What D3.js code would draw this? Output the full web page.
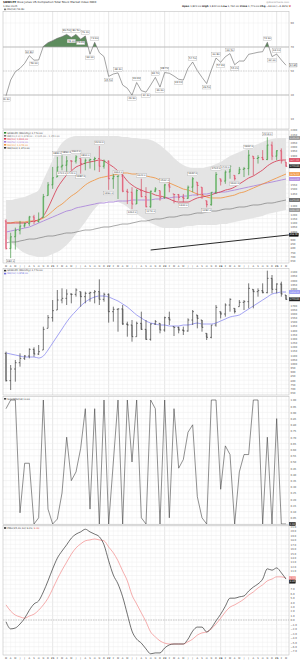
<!DOCTYPE html>
<html>
<head>
<meta charset="utf-8">
<script src="https://cdn.jsdelivr.net/npm/d3@7"></script>
<style>
  body { margin: 0; background: #fff; }
  svg { display: block; }
  text { font-family: "DejaVu Sans", "Liberation Sans", sans-serif; }
</style>
</head>
<body>
<div id="chart"></div>
<script>
// Monthly bars, Mar-2020 .. Mar-2025
const months = d3.timeMonth.range(new Date(2020, 2, 1), new Date(2025, 3, 1));

const opens  = [1122, 794, 934, 1010, 1062, 1090, 1170, 1114, 1162, 1422, 1550, 1642, 1762, 1782, 1834, 1830, 1862, 1802, 1842, 1850, 1862, 1770, 1830, 1622, 1650, 1655, 1474, 1462, 1322, 1482, 1410, 1290, 1474, 1482, 1402, 1550, 1442, 1434, 1402, 1390, 1522, 1582, 1522, 1362, 1314, 1462, 1622, 1594, 1702, 1662, 1682, 1734, 1742, 1890, 1862, 1874, 1850, 2022, 1890, 1954, 1822];
const highs  = [1142, 982, 1042, 1122, 1102, 1182, 1194, 1222, 1442, 1582, 1762, 1882, 1902, 1890, 1842, 1902, 1862, 1862, 1862, 1882, 2010, 1850, 1842, 1682, 1662, 1702, 1502, 1522, 1502, 1622, 1522, 1482, 1522, 1482, 1562, 1622, 1442, 1442, 1442, 1542, 1642, 1582, 1522, 1362, 1462, 1702, 1622, 1722, 1782, 1662, 1762, 1762, 1962, 1890, 1902, 1962, 2114, 2062, 1962, 1982, 1822];
const lows   = [782, 682, 782, 962, 1042, 1062, 1082, 1102, 1162, 1422, 1502, 1642, 1722, 1702, 1722, 1802, 1682, 1722, 1742, 1722, 1702, 1742, 1490, 1502, 1382, 1462, 1322, 1262, 1322, 1402, 1282, 1274, 1462, 1362, 1382, 1462, 1330, 1362, 1342, 1382, 1462, 1422, 1382, 1282, 1302, 1442, 1542, 1562, 1622, 1600, 1682, 1642, 1662, 1662, 1802, 1842, 1842, 1842, 1842, 1802, 1762];
const closes = [794, 934, 1010, 1062, 1090, 1170, 1114, 1142, 1410, 1550, 1634, 1762, 1782, 1834, 1830, 1882, 1802, 1842, 1850, 1862, 1770, 1830, 1622, 1650, 1655, 1474, 1462, 1322, 1482, 1410, 1290, 1474, 1502, 1402, 1550, 1522, 1434, 1402, 1390, 1522, 1622, 1542, 1434, 1314, 1462, 1674, 1594, 1702, 1770, 1622, 1734, 1742, 1902, 1862, 1874, 1850, 2022, 1890, 1954, 1834, 1770];

// Overlays of the price panel
const bbUpper = [1370, 1370, 1382, 1394, 1405, 1429, 1453, 1488, 1607, 1726, 1844, 1963, 2046, 2093, 2117, 2129, 2129, 2129, 2129, 2129, 2129, 2129, 2129, 2129, 2129, 2117, 2117, 2105, 2105, 2093, 2093, 2081, 2058, 2022, 1975, 1927, 1868, 1821, 1785, 1761, 1749, 1749, 1749, 1761, 1773, 1797, 1821, 1856, 1892, 1915, 1939, 1963, 1987, 2010, 2034, 2058, 2081, 2093, 2105, 2105, 2105];
const bbLower = [919, 872, 824, 777, 741, 718, 706, 694, 694, 706, 729, 753, 789, 836, 895, 967, 1038, 1109, 1192, 1263, 1322, 1346, 1358, 1358, 1346, 1322, 1287, 1239, 1204, 1168, 1133, 1097, 1073, 1050, 1038, 1038, 1038, 1038, 1050, 1062, 1062, 1073, 1073, 1073, 1073, 1073, 1085, 1085, 1097, 1109, 1121, 1133, 1145, 1156, 1168, 1180, 1204, 1216, 1228, 1239, 1251];
const ma10 = [1097, 1097, 1097, 1097, 1097, 1109, 1121, 1133, 1180, 1275, 1394, 1512, 1595, 1666, 1714, 1761, 1785, 1809, 1821, 1832, 1844, 1832, 1797, 1761, 1714, 1666, 1595, 1548, 1512, 1488, 1465, 1453, 1429, 1417, 1405, 1382, 1358, 1346, 1346, 1346, 1370, 1394, 1405, 1417, 1429, 1453, 1465, 1488, 1500, 1524, 1560, 1595, 1631, 1655, 1690, 1726, 1773, 1809, 1832, 1844, 1844];
const ma20 = [1097, 1097, 1109, 1109, 1109, 1121, 1121, 1133, 1156, 1192, 1239, 1287, 1322, 1370, 1417, 1453, 1500, 1548, 1583, 1607, 1631, 1643, 1655, 1666, 1678, 1690, 1690, 1678, 1678, 1666, 1655, 1643, 1631, 1607, 1595, 1572, 1548, 1524, 1500, 1488, 1465, 1441, 1429, 1405, 1394, 1394, 1394, 1405, 1417, 1429, 1453, 1465, 1488, 1512, 1536, 1560, 1583, 1607, 1631, 1655, 1678];
const ma50 = [990, 1002, 1014, 1026, 1038, 1050, 1073, 1097, 1121, 1145, 1168, 1192, 1216, 1239, 1251, 1275, 1287, 1299, 1311, 1322, 1334, 1334, 1346, 1346, 1358, 1358, 1358, 1370, 1370, 1370, 1370, 1370, 1382, 1382, 1394, 1394, 1405, 1405, 1417, 1417, 1429, 1429, 1441, 1441, 1453, 1453, 1465, 1465, 1477, 1488, 1500, 1512, 1524, 1536, 1548, 1560, 1572, 1583, 1595, 1607, 1619];
const ma100 = [860, 872, 872, 884, 895, 907, 907, 919, 931, 943, 943, 955, 967, 979, 979, 990, 1002, 1014, 1014, 1026, 1038, 1050, 1050, 1062, 1073, 1085, 1085, 1097, 1109, 1121, 1121, 1133, 1145, 1145, 1156, 1168, 1168, 1180, 1192, 1192, 1204, 1216, 1216, 1228, 1239, 1239, 1251, 1263, 1263, 1275, 1287, 1287, 1299, 1311, 1311, 1322, 1334, 1334, 1346, 1358, 1370];
const trendLine = [{ i: 31, v: 777 }, { i: 61, v: 958 }];

// Second price panel moving average
const maLower = [1126, 1114, 1102, 1090, 1078, 1078, 1078, 1066, 1090, 1162, 1246, 1330, 1414, 1498, 1570, 1630, 1690, 1738, 1774, 1798, 1810, 1810, 1798, 1774, 1750, 1714, 1678, 1630, 1582, 1546, 1510, 1486, 1474, 1462, 1462, 1450, 1450, 1450, 1462, 1462, 1474, 1486, 1474, 1474, 1474, 1486, 1510, 1534, 1558, 1570, 1582, 1618, 1654, 1690, 1726, 1762, 1798, 1834, 1846, 1858, 1858];

// Indicators
const rsi = [29.4, 42.5, 49.4, 52.2, 56.4, 62.8, 59.0, 59.2, 70.5, 73.6, 75.3, 77.2, 78.6, 80.5, 78.0, 80.5, 76.4, 79.2, 64.0, 73.9, 65.3, 62.0, 45.5, 47.5, 48.4, 38.3, 35.6, 29.9, 40.4, 33.6, 32.4, 38.3, 44.7, 36.6, 48.7, 48.1, 45.8, 43.1, 42.5, 52.2, 57.5, 50.3, 44.7, 39.5, 50.8, 60.8, 57.3, 61.9, 64.5, 55.2, 58.3, 58.3, 63.9, 64.7, 65.6, 66.1, 73.9, 62.0, 64.1, 59.2, 54.8];
const stochRsi = [0.93, 1.0, 1.0, 0.09, 0.49, 0.49, 0.0, 0.05, 1.0, 0.12, 0.0, 0.04, 0.25, 0.70, 0.35, 0.42, 0.61, 0.93, 0.12, 0.93, 0.0, 1.0, 0.0, 0.5, 1.0, 0.0, 1.0, 0.50, 1.0, 0.05, 0.0, 1.0, 0.93, 0.0, 1.0, 0.05, 0.93, 0.45, 0.52, 0.74, 0.80, 0.22, 0.05, 0.0, 1.0, 1.0, 0.28, 0.63, 0.56, 0.0, 0.42, 0.56, 0.56, 1.0, 1.0, 0.0, 0.70, 0.0, 0.85, 0.0, 0.0];
const pmo = [-0.4, -2.0, -1.8, -0.9, 0.4, 2.2, 3.6, 4.3, 6.3, 8.8, 11.5, 13.9, 15.5, 16.9, 18.4, 19.3, 19.8, 20.4, 19.8, 19.3, 18.7, 16.9, 13.3, 10.1, 8.1, 5.2, 1.3, -2.5, -4.3, -5.2, -6.5, -7.6, -7.4, -7.4, -6.3, -5.6, -5.4, -5.4, -5.4, -4.3, -2.5, -1.6, -1.6, -2.7, -1.8, -0.2, 1.3, 3.1, 4.9, 4.9, 5.2, 5.4, 6.5, 7.4, 8.1, 9.2, 11.5, 11.2, 11.7, 10.6, 9.2];
const pmoSignal = [3.4, 2.0, 1.1, 0.7, 0.4, 0.9, 1.3, 2.2, 3.4, 4.9, 7.0, 9.2, 11.2, 13.0, 14.8, 16.2, 17.1, 17.8, 18.0, 18.2, 18.0, 17.8, 16.4, 15.1, 13.3, 11.0, 8.8, 5.6, 3.6, 1.6, -0.4, -2.7, -3.8, -4.7, -5.2, -5.4, -5.4, -5.4, -5.4, -4.9, -4.3, -3.4, -2.9, -2.7, -2.0, -0.9, 0.4, 1.8, 2.9, 3.4, 4.0, 4.7, 5.6, 6.3, 7.2, 7.9, 8.8, 9.2, 9.7, 9.7, 9.4];

// Pivot labels: [bar index, +1 above / -1 below]
const rsiTags = [[0, -1], [5, 1], [6, -1], [13, 1], [14, -1], [15, 1], [16, -1], [17, 1], [18, -1], [19, 1], [22, -1], [24, 1], [27, -1], [28, 1], [30, -1], [32, 1], [33, -1], [34, 1], [37, -1], [40, 1], [43, -1], [45, 1], [46, -1], [48, 1], [49, -1], [56, 1], [57, -1], [58, 1]];
const priceTags = [[1, -1], [11, 1], [12, -1], [13, 1], [14, -1], [15, 1], [16, -1], [17, 1], [20, 1], [22, -1], [24, 1], [27, -1], [29, 1], [31, -1], [34, 1], [38, -1], [40, 1], [43, -1], [45, 1], [47, 1], [49, -1], [52, 1], [56, 1]];

// Axis ticks
const rsiTicks = [10, 30, 50, 70, 90];
const priceTicks = d3.range(650, 2201, 50);
const lowerTicks = d3.range(650, 2101, 50);
const stochTicks = d3.range(0, 21).map(d => d / 20);
const pmoTicks = d3.range(-7, 22, 1);

// ---------------------------------------------------------------
const W = 300, H = 661;
const plotLeft = 3, plotRight = 289;
const n = closes.length;
const last = n - 1;
const fmt2 = d3.format(",.2f");

const svg = d3.select("#chart").append("svg")
              .attr("width", W)
              .attr("height", H);
svg.append("rect").attr("width", W).attr("height", H).attr("fill", "#fff");
const defs = svg.append("defs");

const x = d3.scaleLinear().domain([0, 60]).range([6, 286]);

const P1 = { top: 11.5, bottom: 129 };
const P2 = { top: 130, bottom: 263 };
const P3 = { top: 268.5, bottom: 395 };
const P4 = { top: 396.5, bottom: 524.5 };
const P5 = { top: 525.5, bottom: 655 };

const yRsi = d3.scaleLinear().domain([0, 100]).range([131, 11]);
const yPrice = d3.scaleLinear().domain([623, 2200]).range([263, 130]);
const yLower = d3.scaleLinear().domain([622, 2146]).range([395, 268]);
const yStoch = d3.scaleLinear().domain([0, 1]).range([524, 400]);
const yPmo = d3.scaleLinear().domain([-7.87, 21.35]).range([655, 525]);

let clipCount = 0;

// Panel frame: grid, right axis, clipped drawing group
function panel(p, yScale, ticks, tickFmt) {
    const id = "clip" + (clipCount++);
    defs.append("clipPath").attr("id", id)
        .append("rect")
        .attr("x", plotLeft).attr("y", p.top)
        .attr("width", plotRight - plotLeft).attr("height", p.bottom - p.top);

    const grid = svg.append("g");
    grid.selectAll("line.v")
        .data(months)
        .join("line")
        .attr("x1", (d, i) => x(i)).attr("x2", (d, i) => x(i))
        .attr("y1", p.top).attr("y2", p.bottom)
        .attr("stroke", d => d.getMonth() === 0 ? "#cfcfcf" : "#f0f0f0")
        .attr("stroke-width", 0.5);
    const inside = ticks.filter(t => yScale(t) >= p.top && yScale(t) <= p.bottom);
    grid.selectAll("line.h")
        .data(inside)
        .join("line")
        .attr("x1", plotLeft).attr("x2", plotRight)
        .attr("y1", d => yScale(d)).attr("y2", d => yScale(d))
        .attr("stroke", "#ececec")
        .attr("stroke-width", 0.5);

    const axis = svg.append("g")
       .attr("transform", "translate(" + plotRight + ",0)")
       .call(d3.axisRight(yScale).tickValues(inside).tickSize(0).tickPadding(1.5).tickFormat(tickFmt))
       .call(a => a.select(".domain").remove());
    axis.selectAll("text")
        .attr("font-size", 2.6)
        .attr("fill", "#555");

    const g = svg.append("g").attr("clip-path", "url(#" + id + ")");
    return { g: g, axis: axis, yScale: yScale };
}

function border(p) {
    svg.append("rect")
       .attr("x", plotLeft).attr("y", p.top)
       .attr("width", plotRight - plotLeft).attr("height", p.bottom - p.top)
       .attr("fill", "none").attr("stroke", "#b5b5b5").attr("stroke-width", 0.5);
}

// Small boxed value label
function tag(g, cx, cy, txt, opt) {
    opt = opt || {};
    const t = g.append("text")
               .attr("x", cx).attr("y", cy)
               .attr("font-size", opt.size || 2.5)
               .attr("text-anchor", opt.anchor || "middle")
               .attr("dominant-baseline", "central")
               .attr("fill", opt.color || "#333")
               .text(txt);
    const w = t.node().getComputedTextLength() + 1.2;
    const h = (opt.size || 2.5) + 1.1;
    const left = (opt.anchor === "start") ? cx - 0.6 : cx - w / 2;
    g.insert("rect", () => t.node())
     .attr("x", left).attr("y", cy - h / 2)
     .attr("width", w).attr("height", h)
     .attr("fill", opt.fill || "#fff")
     .attr("stroke", opt.stroke || "#999")
     .attr("stroke-width", 0.3);
}

// Last-value boxes on the right axis, spread apart, hiding the ticks under them
function valueBoxes(pn, boxes) {
    const list = boxes.map(b => Object.assign({ y: pn.yScale(b.v) }, b)).sort((a, b) => a.y - b.y);
    const gap = 3.5;
    for (let k = 1; k < list.length; k++) {
        if (list[k].y - list[k - 1].y < gap) list[k].y = list[k - 1].y + gap;
    }
    pn.axis.selectAll(".tick").each(function (t) {
        const ty = pn.yScale(t);
        if (list.some(b => Math.abs(b.y - ty) < 3.2)) d3.select(this).select("text").remove();
    });
    list.forEach(b => tag(svg, plotRight + 0.8, b.y, d3.format(".2f")(b.v),
        { anchor: "start", fill: b.fill, stroke: b.stroke || b.fill, color: b.color || "#fff", size: 2.3 }));
}

function legendRow(y, label, color, boxColor) {
    const g = svg.append("g");
    g.append("rect").attr("x", 4).attr("y", y - 1.6).attr("width", 2.2).attr("height", 1.6)
     .attr("fill", boxColor || color);
    g.append("text").attr("x", 7.2).attr("y", y)
     .attr("font-size", 2.5).attr("fill", color).text(label);
}

function lineOf(yScale) {
    return d3.line().x((d, i) => x(i)).y(d => yScale(d));
}

function drawBars(g, yScale, upColor, downColor, bodyUp, bodyDown) {
    const idx = d3.range(n);
    const up = i => closes[i] >= (i ? closes[i - 1] : opens[0]);
    g.selectAll("rect.body")
     .data(idx.filter(i => (closes[i] >= opens[i] ? bodyUp : bodyDown)))
     .join("rect")
     .attr("x", i => x(i) - 0.9).attr("width", 1.8)
     .attr("y", i => yScale(Math.max(opens[i], closes[i])))
     .attr("height", i => Math.max(0.4, Math.abs(yScale(opens[i]) - yScale(closes[i]))))
     .attr("fill", i => closes[i] >= opens[i] ? bodyUp : bodyDown);
    g.selectAll("line.hl")
     .data(idx)
     .join("line")
     .attr("x1", i => x(i)).attr("x2", i => x(i))
     .attr("y1", i => yScale(highs[i])).attr("y2", i => yScale(lows[i]))
     .attr("stroke", i => up(i) ? upColor : downColor).attr("stroke-width", 0.6);
    g.selectAll("line.o")
     .data(idx)
     .join("line")
     .attr("x1", i => x(i) - 1.3).attr("x2", i => x(i))
     .attr("y1", i => yScale(opens[i])).attr("y2", i => yScale(opens[i]))
     .attr("stroke", i => up(i) ? upColor : downColor).attr("stroke-width", 0.6);
    g.selectAll("line.c")
     .data(idx)
     .join("line")
     .attr("x1", i => x(i)).attr("x2", i => x(i) + 1.3)
     .attr("y1", i => yScale(closes[i])).attr("y2", i => yScale(closes[i]))
     .attr("stroke", i => up(i) ? upColor : downColor).attr("stroke-width", 0.6);
}

function monthAxis(y) {
    svg.append("g")
       .selectAll("text")
       .data(months)
       .join("text")
       .attr("x", (d, i) => x(i)).attr("y", y)
       .attr("text-anchor", "middle")
       .attr("font-size", 2.4)
       .attr("font-weight", d => d.getMonth() === 0 ? "bold" : "normal")
       .attr("fill", "#444")
       .text(d => d.getMonth() === 0 ? d3.timeFormat("%y")(d) : d3.timeFormat("%b")(d)[0]);
}

// ---------------------------------------------------------------
// Header
const chg = closes[last] - closes[last - 1];
svg.append("text").attr("x", 3).attr("y", 3.4).attr("font-size", 2.8).attr("fill", "#222")
   .html("<tspan font-weight='bold'>$DWCPF</tspan> Dow Jones US Completion Total Stock Market Index  INDX");
svg.append("text").attr("x", 3).attr("y", 6.6).attr("font-size", 2.5).attr("fill", "#333")
   .text("1-Mar-2025");
svg.append("text").attr("x", plotRight).attr("y", 3.2).attr("font-size", 2.4).attr("fill", "#888")
   .attr("text-anchor", "end").text("@StockCharts.com");
svg.append("text").attr("x", plotRight + 2).attr("y", 6.8).attr("font-size", 2.5).attr("fill", "#222")
   .attr("text-anchor", "end")
   .html("<tspan font-weight='bold'>Open</tspan> " + fmt2(opens[last]) +
         " <tspan font-weight='bold'>High</tspan> " + fmt2(highs[last]) +
         " <tspan font-weight='bold'>Low</tspan> " + fmt2(lows[last]) +
         " <tspan font-weight='bold'>Close</tspan> " + fmt2(closes[last]) +
         " <tspan font-weight='bold'>Chg</tspan> " + d3.format(".2f")(chg) +
         " (" + d3.format(".2%")(chg / closes[last - 1]) + ") <tspan fill='#d22'>▼</tspan>");
legendRow(10.2, "RSI(14) " + d3.format(".2f")(rsi[last]), "#333", "#777");

// Panel 1: RSI
{
    const pn = panel(P1, yRsi, rsiTicks, d3.format("d"));
    const g = pn.g;
    defs.append("clipPath").attr("id", "above70").append("rect")
        .attr("x", plotLeft).attr("y", P1.top).attr("width", plotRight - plotLeft).attr("height", yRsi(70) - P1.top);
    defs.append("clipPath").attr("id", "below30").append("rect")
        .attr("x", plotLeft).attr("y", yRsi(30)).attr("width", plotRight - plotLeft).attr("height", P1.bottom - yRsi(30));
    g.append("path").datum(rsi)
     .attr("d", d3.area().x((d, i) => x(i)).y0(yRsi(70)).y1(d => yRsi(d)))
     .attr("fill", "#5d8c5d").attr("clip-path", "url(#above70)");
    g.append("path").datum(rsi)
     .attr("d", d3.area().x((d, i) => x(i)).y0(yRsi(30)).y1(d => yRsi(d)))
     .attr("fill", "#c84848").attr("clip-path", "url(#below30)");
    [70, 30].forEach(v => g.append("line").attr("x1", plotLeft).attr("x2", plotRight)
        .attr("y1", yRsi(v)).attr("y2", yRsi(v)).attr("stroke", "#a8a8a8").attr("stroke-width", 0.7));
    g.append("line").attr("x1", plotLeft).attr("x2", plotRight)
     .attr("y1", yRsi(50)).attr("y2", yRsi(50))
     .attr("stroke", "#b0b0b0").attr("stroke-width", 0.5).attr("stroke-dasharray", "1.5,1");
    g.append("path").datum(rsi).attr("d", lineOf(yRsi))
     .attr("fill", "none").attr("stroke", "#666").attr("stroke-width", 0.6);
    rsiTags.forEach(([i, s]) => tag(g, x(i), yRsi(rsi[i]) - s * 3.6, d3.format(".2f")(rsi[i])));
    border(P1);
    valueBoxes(pn, [{ v: rsi[last], fill: "#fff", stroke: "#555", color: "#222" }]);
}

// Panel 2: price with Bollinger Bands and moving averages
{
    const pn = panel(P2, yPrice, priceTicks, d3.format("d"));
    const g = pn.g;
    g.append("path").datum(d3.range(n))
     .attr("d", d3.area().x(i => x(i)).y0(i => yPrice(bbLower[i])).y1(i => yPrice(bbUpper[i])).curve(d3.curveMonotoneX))
     .attr("fill", "#e4e4e4");
    const series = [
        { data: ma100, color: "#555", w: 0.5 },
        { data: ma50, color: "#a77ddb", w: 0.8 },
        { data: ma20, color: "#f0913a", w: 0.8 },
        { data: ma10, color: "#d6334d", w: 0.8 }
    ];
    series.forEach(s => g.append("path").datum(s.data)
        .attr("d", lineOf(yPrice).curve(d3.curveMonotoneX))
        .attr("fill", "none").attr("stroke", s.color).attr("stroke-width", s.w));
    g.append("line")
     .attr("x1", x(trendLine[0].i)).attr("y1", yPrice(trendLine[0].v))
     .attr("x2", x(trendLine[1].i)).attr("y2", yPrice(trendLine[1].v))
     .attr("stroke", "#111").attr("stroke-width", 0.9);
    drawBars(g, yPrice, "#2c8a2c", "#d2304c", "#a6d6a6", "#f0a8b8");
    priceTags.forEach(([i, s]) => {
        const v = s > 0 ? highs[i] : lows[i];
        tag(g, x(i), yPrice(v) - s * 3.2, d3.format(".1f")(v));
    });
    border(P2);

    legendRow(133.6, "$DWCPF (Monthly) " + fmt2(closes[last]), "#333", "#2c8a2c");
    legendRow(136.6, "BB(20,2.0) " + fmt2(ma20[last]) + " - " + fmt2(bbUpper[last]) + " - " + fmt2(bbLower[last]), "#777");
    legendRow(139.6, "MA(10) " + fmt2(ma10[last]), "#d6334d");
    legendRow(142.6, "MA(50) " + fmt2(ma50[last]), "#a77ddb");
    legendRow(145.6, "MA(20) " + fmt2(ma20[last]), "#f0913a");
    legendRow(148.6, "MA(100) " + fmt2(ma100[last]), "#333");

    valueBoxes(pn, [
        { v: bbUpper[last], fill: "#888" },
        { v: ma10[last], fill: "#d6334d" },
        { v: closes[last], fill: "#222" },
        { v: ma20[last], fill: "#f0913a" },
        { v: ma50[last], fill: "#a77ddb" },
        { v: ma100[last], fill: "#555" },
        { v: bbLower[last], fill: "#888" },
        { v: trendLine[1].v, fill: "#111" }
    ]);
}

monthAxis(266.8);

// Panel 3: price with moving average
{
    const pn = panel(P3, yLower, lowerTicks, d3.format("d"));
    const g = pn.g;
    g.append("path").datum(maLower).attr("d", lineOf(yLower).curve(d3.curveMonotoneX))
     .attr("fill", "none").attr("stroke", "#8c8cf0").attr("stroke-width", 0.8);
    drawBars(g, yLower, "#222", "#222", null, "#b4b4b4");
    border(P3);
    legendRow(271.4, "$DWCPF (Monthly) " + fmt2(closes[last]), "#333", "#333");
    legendRow(274.4, "MA(10) " + fmt2(maLower[last]), "#7070e0");
    valueBoxes(pn, [
        { v: maLower[last], fill: "#8c8cf0" },
        { v: closes[last], fill: "#222" }
    ]);
}

// Panel 4: StochRSI
{
    const pn = panel(P4, yStoch, stochTicks, d3.format(".2f"));
    const g = pn.g;
    g.append("path").datum(stochRsi).attr("d", lineOf(yStoch))
     .attr("fill", "none").attr("stroke", "#444").attr("stroke-width", 0.6);
    border(P4);
    legendRow(399.6, "StochRSI(14) " + d3.format(".2f")(stochRsi[last]), "#333", "#444");
    valueBoxes(pn, [{ v: stochRsi[last], fill: "#222" }]);
}

// Panel 5: PMO with signal line
{
    const pn = panel(P5, yPmo, pmoTicks, d3.format(".1f"));
    const g = pn.g;
    g.append("line").attr("x1", plotLeft).attr("x2", plotRight)
     .attr("y1", yPmo(0)).attr("y2", yPmo(0))
     .attr("stroke", "#999").attr("stroke-width", 0.5).attr("stroke-dasharray", "1.5,1");
    g.append("path").datum(pmoSignal).attr("d", lineOf(yPmo).curve(d3.curveMonotoneX))
     .attr("fill", "none").attr("stroke", "#f28a8a").attr("stroke-width", 0.7);
    g.append("path").datum(pmo).attr("d", lineOf(yPmo).curve(d3.curveMonotoneX))
     .attr("fill", "none").attr("stroke", "#333").attr("stroke-width", 0.7);
    border(P5);
    svg.append("text").attr("x", 7.2).attr("y", 528.8).attr("font-size", 2.5).attr("fill", "#333")
       .html("PMO(35,20,10) " + d3.format(".2f")(pmo[last]) + ", <tspan fill='#e05050'>" + d3.format(".2f")(pmoSignal[last]) + "</tspan>");
    svg.append("rect").attr("x", 4).attr("y", 527.2).attr("width", 2.2).attr("height", 1.6).attr("fill", "#333");
    valueBoxes(pn, [
        { v: pmo[last], fill: "#222" },
        { v: pmoSignal[last], fill: "#f28a8a" }
    ]);
}

monthAxis(658.6);
</script>
</body>
</html>
